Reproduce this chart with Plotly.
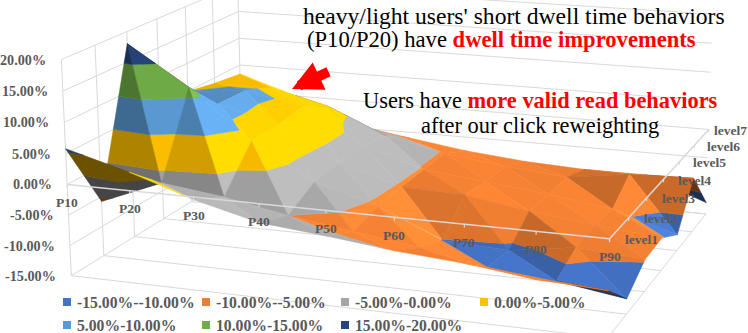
import numpy as np
import plotly.graph_objects as go

# ---------- data ----------
categories = ["P10", "P20", "P30", "P40", "P50", "P60", "P70", "P80", "P90"]
levels = ["level1", "level2", "level3", "level4", "level5", "level6", "level7"]
z_ticks = [-15, -10, -5, 0, 5, 10, 15, 20]
level1 = [5.8, 3.0, -0.4, -3.0, -4.0, -5.2, -6.0, -7.3, -7.8]
level2 = [-5.8, -1.7, -3.0, -5.0, -6.5, -8.0, -10.0, -11.0, -12.6]
level3 = [18.0, 11.5, 3.4, -2.5, -5.5, -10.1, -10.6, -9.0, -9.8]
level4 = [8.0, 6.2, 3.5, -2.0, -5.3, -5.6, -7.3, -8.5, -9.6]
level5 = [5.0, 6.0, 4.0, -2.0, -5.2, -6.3, -7.5, -9.0, -12.3]
level6 = [4.0, 4.0, 1.5, -3.0, -5.2, -6.6, -7.5, -6.0, -5.7]
level7 = [3.3, 0.1, -4.4, -6.0, -7.5, -8.5, -9.0, -9.0, -13.0]
band_labels = ["-15.00%--10.00%", "-10.00%--5.00%", "-5.00%-0.00%", "0.00%-5.00%",
               "5.00%-10.00%", "10.00%-15.00%", "15.00%-20.00%"]
band_colors = ["#4472C4", "#ED7D31", "#A5A5A5", "#FFC000", "#5B9BD5", "#70AD47", "#264478"]

Z = np.array([level1, level2, level3, level4, level5, level6, level7])
nu, nv = Z.shape[1], Z.shape[0]
W, H = 748, 333
GRID = "#d9d9d9"
TXT = "#595959"
SERIF = "Liberation Serif"

# ---------- the chart's oblique view: (category, level, value) -> page position ----------
view_anchors = [
    ((0, 0, -15), (72, 276)), ((0, 0, 20), (62, 57)), ((0, 0, 0), (67, 183)), ((8, 0, 0), (609, 240)),
    ((8, 0, -15), (611, 333)), ((0, 6, -15), (240, 171)), ((0, 6, 0), (240, 92)), ((8, 6, 0), (707, 131)),
    ((8, 6, -15), (706, 215)), ((0, 6, 20), (240, -16)), ((0, 1, -15), (104, 256)), ((0, 2, -15), (135, 236)),
    ((0, 3, -15), (164, 218)), ((8, 1, 0), (627, 218)), ((8, 2, 0), (647, 198)), ((8, 3, 0), (664, 179)),
    ((8, 4, 0), (680, 160)), ((8, 5, 0), (696, 143)), ((1, 0, 0), (130, 191)), ((2, 0, 0), (193, 198)),
    ((3, 0, 0), (258, 205)), ((4, 0, 0), (325, 212)), ((5, 0, 0), (394, 218)), ((6, 0, 0), (464, 226)),
    ((7, 0, 0), (535, 233)),
]
T_in = np.diag([1 / 8, 1 / 6, 1 / 35, 1.0])
T_in[2, 3] = 15 / 35
T_out = np.diag([1 / 374, 1 / 374, 1.0])
weights = np.ones(len(view_anchors))
for _ in range(12):
    rows = []
    for wt, ((u, v, w), (x, y)) in zip(weights, view_anchors):
        uu, vv, ww, _o = T_in @ np.array([u, v, w, 1.0])
        xx, yy = x / 374, y / 374
        rows.append(wt * np.array([uu, vv, ww, 1, 0, 0, 0, 0, -xx * uu, -xx * vv, -xx * ww, -xx]))
        rows.append(wt * np.array([0, 0, 0, 0, uu, vv, ww, 1, -yy * uu, -yy * vv, -yy * ww, -yy]))
    Mn = np.linalg.svd(np.array(rows, float))[2][-1].reshape(3, 4)
    denom = [Mn[2] @ (T_in @ np.array([*a[0], 1.0])) for a in view_anchors]
    weights = 1 / np.abs(np.array(denom))
M = np.linalg.inv(T_out) @ Mn @ T_in
if M[2] @ np.array([0, 0, 0, 1.0]) < 0:
    M = -M


def project(u, v, w):
    q = M @ np.array([u, v, w, 1.0])
    return q[0] / q[2], q[1] / q[2]


cam = np.linalg.svd(M)[2][-1]
cam = cam[:3] / cam[3]


def area(a, b, c):
    p, q, r = project(*a), project(*b), project(*c)
    return (q[0] - p[0]) * (r[1] - p[1]) - (q[1] - p[1]) * (r[0] - p[0])


front_sign = np.sign(area((0, 0, -15), (8, 0, -15), (8, 6, -15)))


def clip(poly, limit, keep_above):
    out = []
    for k in range(len(poly)):
        a, b = poly[k], poly[(k + 1) % len(poly)]
        ina = a[2] >= limit if keep_above else a[2] <= limit
        inb = b[2] >= limit if keep_above else b[2] <= limit
        if ina:
            out.append(a)
        if ina != inb:
            t = (limit - a[2]) / (b[2] - a[2])
            out.append(tuple(a[m] + t * (b[m] - a[m]) for m in range(3)))
    return out


def shade_hex(col, f):
    c = [int(col[i:i + 2], 16) for i in (1, 3, 5)]
    return "#%02x%02x%02x" % tuple(int(min(255, round(x * f))) for x in c)


SCALE = np.array([1.0, 1.0, 0.1])

fig = go.Figure()


def draw_line(a, b, width=1, color=GRID):
    pa, pb = project(*a), project(*b)
    fig.add_trace(go.Scatter(x=[pa[0], pb[0]], y=[pa[1], pb[1]], mode="lines",
                             line=dict(color=color, width=width), hoverinfo="skip", showlegend=False))


# walls and floor
for zt in z_ticks:
    draw_line((0, 0, zt), (0, nv - 1, zt))
    draw_line((0, nv - 1, zt), (nu - 1, nv - 1, zt))
for j in range(nv):
    draw_line((0, j, -15), (nu - 1, j, -15))
    draw_line((0, j, -15), (0, j, 20))
draw_line((nu - 1, 0, -15), (nu - 1, nv - 1, -15))

# surface: far cells first
cells = [(i, j) for j in range(nv - 1) for i in range(nu - 1)]
cells.sort(key=lambda c: (-abs(c[1] + .5 - cam[1]), -abs(c[0] + .5 - cam[0])))
for i, j in cells:
    p00 = (i, j, Z[j, i])
    p10 = (i + 1, j, Z[j, i + 1])
    p01 = (i, j + 1, Z[j + 1, i])
    p11 = (i + 1, j + 1, Z[j + 1, i + 1])
    # the rear triangle goes first
    for tri in ((p10, p11, p01), (p00, p10, p01)):
        e1 = (np.array(tri[1]) - np.array(tri[0])) * SCALE
        e2 = (np.array(tri[2]) - np.array(tri[0])) * SCALE
        n = np.cross(e1, e2)
        n = n / np.linalg.norm(n)
        facing = np.sign(area(*tri)) == front_sign
        f = float(np.clip(0.97 + 0.6 * n[0] + 0.1 * n[1] - 0.3 * (1 - n[2]), 0.68, 1.15)) if facing else 0.42
        for b in range(7):
            lo, hi = -15 + 5 * b, -10 + 5 * b
            poly = clip(clip(list(tri), lo, True), hi, False)
            if len(poly) < 3:
                continue
            pts = [project(*p) for p in poly]
            c = shade_hex(band_colors[b], f)
            fig.add_trace(go.Scatter(x=[p[0] for p in pts] + [pts[0][0]], y=[p[1] for p in pts] + [pts[0][1]],
                                     mode="lines", fill="toself", fillcolor=c, line=dict(color=c, width=0.5),
                                     name=band_labels[b], hoverinfo="skip", showlegend=False))

# axes at value zero, with ticks
draw_line((0, 0, 0), (nu - 1, 0, 0), 1.5)
draw_line((nu - 1, 0, 0), (nu - 1, nv - 1, 0), 1.5)
for i in range(nu):
    draw_line((i, 0, 0), (i, 0, -0.5), 1.2)
for j in range(nv):
    draw_line((nu - 1, j, 0), (nu - 1, j, -0.5), 1.2)

ann = []


def label(x, y, text, size, xanchor="center", color=TXT, bold=True):
    ann.append(dict(x=x, y=y, xref="x", yref="y", text=("<b>%s</b>" % text) if bold else text, showarrow=False,
                    xanchor=xanchor, yanchor="middle", font=dict(family=SERIF, size=size, color=color)))


for i, c in enumerate(categories):
    x, y = project(i, 0, 0)
    label(x, y + 18, c, 13.5)
level_label_gap = [13, 13, 13, 12, 12, 10, 3]
for j, l in enumerate(levels):
    x, y = project(nu - 1, j, 0)
    label(x + level_label_gap[j], y + 1, l, 13.5, "left")
for zt in z_ticks:
    x, y = project(0, 0, zt)
    label(x - 13, y, "%.2f%%" % zt, 14.2, "right")

# legend
legend_rows = [(0, 0, 0), (1, 0, 1), (2, 0, 2), (3, 0, 3), (4, 1, 0), (5, 1, 1), (6, 1, 2)]
shapes = []
for b, r, c in legend_rows:
    x0 = 63 + 139 * c
    y0 = 302 + 23 * r
    shapes.append(dict(type="rect", xref="x", yref="y", x0=x0, x1=x0 + 8, y0=y0 - 4, y1=y0 + 4,
                       fillcolor=band_colors[b], line=dict(width=0)))
    label(x0 + 12, y0, band_labels[b], 15.7, "left")

# callouts
label(514, 16, "heavy/light users' short dwell time behaviors", 23.6, color="#000000", bold=False)
label(501, 39, "(P10/P20) have <b><span style='color:#ff0000'>dwell time improvements</span></b>", 22.6, color="#000000", bold=False)
label(540, 100, "Users have <b><span style='color:#ff0000'>more valid read behaviors</span></b>", 22.4, color="#000000", bold=False)
label(540, 125, "after our click reweighting", 22.4, color="#000000", bold=False)
ann.append(dict(x=292, y=89, ax=330, ay=71, xref="x", yref="y", axref="x", ayref="y", text="", showarrow=True,
                arrowhead=2, arrowsize=0.6, arrowwidth=10, arrowcolor="#ff0000"))

fig.update_layout(width=W, height=H, margin=dict(l=0, r=0, t=0, b=0), paper_bgcolor="white", plot_bgcolor="white",
                  xaxis=dict(range=[0, W], visible=False, fixedrange=True),
                  yaxis=dict(range=[H, 0], visible=False, fixedrange=True),
                  showlegend=False, annotations=ann, shapes=shapes)
fig.write_html("out.html", config=dict(displayModeBar=False), post_script="document.body.style.margin='0';")
